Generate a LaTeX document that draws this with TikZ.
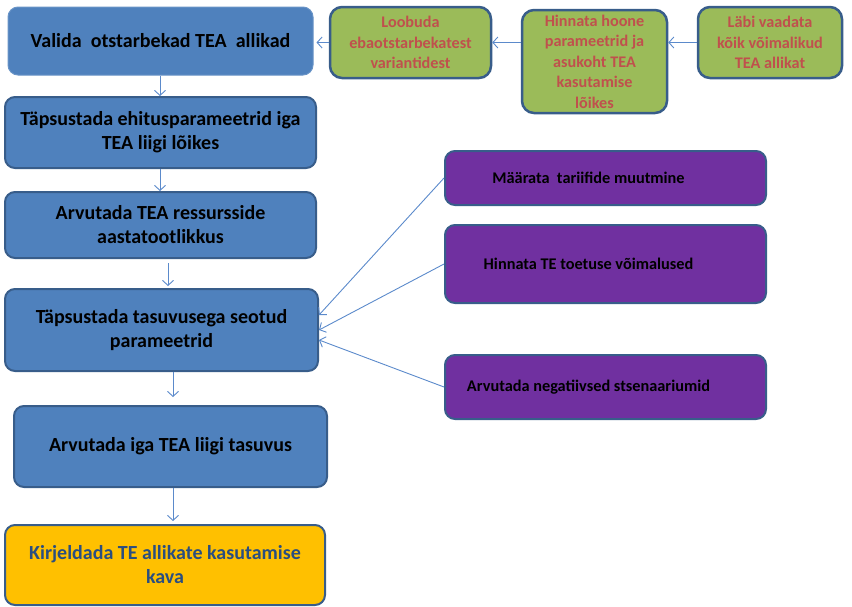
\documentclass[tikz,border=0pt]{standalone}
\usepackage{fontspec}
\setmainfont{Carlito}
\usetikzlibrary{arrows.meta}
\definecolor{bfill}{HTML}{4F81BD}
\definecolor{bdraw}{HTML}{385D8A}
\definecolor{gfill}{HTML}{9BBB59}
\definecolor{pfill}{HTML}{7030A0}
\definecolor{rtext}{HTML}{C0504D}
\definecolor{yfill}{HTML}{FFC000}
\definecolor{ytext}{HTML}{2A4E80}
\definecolor{arrc}{HTML}{5B8ACB}
\newcommand{\leftshift}[1]{#1\hspace*{34pt}}
\tikzset{
  box/.style={rectangle, rounded corners=10pt, align=center, inner sep=2pt,
    font=\fontsize{20}{24}\selectfont\bfseries, line width=2pt},
  bluebox/.style={box, fill=bfill, draw=bdraw},
  firstbox/.style={box, fill=bfill, draw=bfill!85!white, line width=1pt},
  greenbox/.style={box, fill=gfill, draw=bdraw, line width=2.5pt, rounded corners=12pt,
    text=rtext, font=\fontsize{16.2}{20.5}\selectfont\bfseries},
  purplebox/.style={box, fill=pfill, draw=bdraw, line width=2pt,
    font=\fontsize{16.3}{20}\selectfont\bfseries},
  yellowbox/.style={box, fill=yfill, draw=bdraw, text=ytext},
  arr/.style={draw=arrc, line width=0.9pt, -{Straight Barb[length=5pt,width=11pt,line width=0.9pt]}}
}
\begin{document}
\begin{tikzpicture}[x=1pt,y=-1pt]
\useasboundingbox (0,0) rectangle (852,606);
\node[firstbox, minimum width=305pt, minimum height=68pt] (b1) at (160.5,41) {Valida\ \ otstarbekad TEA\ \ allikad};
\node[bluebox, minimum width=311pt, minimum height=71pt] (b2) at (160.5,132.5) {Täpsustada ehitusparameetrid iga\\TEA liigi lõikes};
\node[bluebox, minimum width=311pt, minimum height=66pt] (b3) at (160.5,225) {Arvutada TEA ressursside\\aastatootlikkus};
\node[bluebox, minimum width=313pt, minimum height=82pt] (b4) at (161.5,330) {Täpsustada tasuvusega seotud\\parameetrid};
\node[bluebox, minimum width=313pt, minimum height=81pt] (b5) at (170.5,446.5) {Arvutada iga TEA liigi tasuvus};
\node[yellowbox, minimum width=320pt, minimum height=80pt] (b6) at (165,565) {Kirjeldada TE allikate kasutamise\\kava};
\node[greenbox, minimum width=161pt, minimum height=71pt] (g1) at (410.5,42.5) {Loobuda\\ebaotstarbekatest\\variantidest};
\node[greenbox, minimum width=145pt, minimum height=103pt] (g2) at (594.5,61.5) {Hinnata hoone\\parameetrid ja\\asukoht TEA\\kasutamise\\lõikes};
\node[greenbox, minimum width=144pt, minimum height=71pt] (g3) at (770,42.5) {Läbi vaadata\\kõik võimalikud\\TEA allikat};
\node[purplebox, minimum width=321pt, minimum height=54pt] (p1) at (605.5,178) {\leftshift{Määrata\ \ tariifide muutmine}};
\node[purplebox, minimum width=321pt, minimum height=78pt] (p2) at (605.5,264) {\leftshift{Hinnata TE toetuse võimalused}};
\node[purplebox, minimum width=321pt, minimum height=64pt] (p3) at (605.5,387) {\leftshift{Arvutada negatiivsed stsenaariumid}};
% vertical flow
\draw[arr] ([xshift=-0.5pt]b1.south) -- ([xshift=-0.5pt]b2.north);
\draw[arr] ([xshift=-0.5pt]b2.south) -- ([xshift=-0.5pt]b3.north);
\draw[arr, shorten <=4pt, shorten >=2pt] ([xshift=7.5pt]b3.south) -- ([xshift=7.5pt]b3.south |- b4.north);
\draw[arr, shorten >=8pt] ([xshift=11.5pt]b4.south) -- ([xshift=11.5pt]b4.south |- b5.north);
\draw[arr, shorten >=3pt] ([xshift=2.5pt]b5.south) -- ([xshift=2.5pt]b5.south |- b6.north);
% top row
\draw[arr] (g3.west) -- (g3.west -| g2.east);
\draw[arr] (g2.west |- g1.east) -- (g1.east);
\draw[arr, shorten >=3pt] (g1.west) -- (g1.west -| b1.east);
% purple inputs
\draw[arr] (p1.west) -- ([yshift=15pt]b4.east);
\draw[arr] (p2.west) -- (b4.east);
\draw[arr] (p3.west) -- ([yshift=-10pt]b4.east);
\end{tikzpicture}
\end{document}
